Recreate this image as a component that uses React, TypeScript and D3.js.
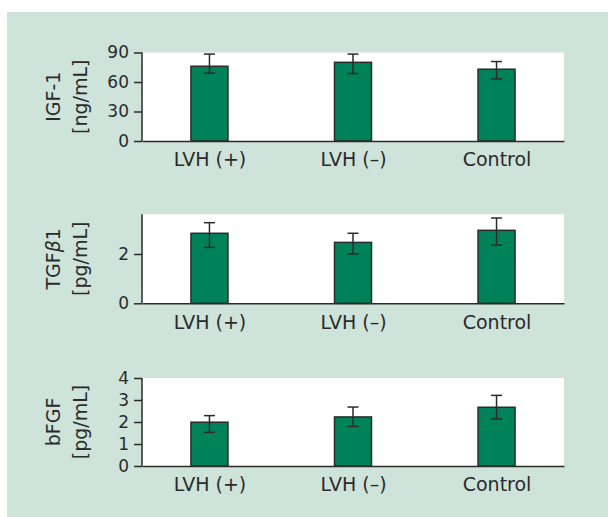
import React, { useEffect, useRef } from 'react';
import * as d3 from 'd3';

// Data
const categories = ['LVH (+)', 'LVH (–)', 'Control'];

const igfMean = [76, 80, 73];
const igfUpper = [88.4, 88.4, 80.8];
const igfLower = [69, 68.6, 63.2];
const igfTicks = [0, 30, 60, 90];

const tgfMean = [2.84, 2.47, 2.96];
const tgfUpper = [3.27, 2.84, 3.46];
const tgfLower = [2.27, 2.0, 2.36];
const tgfTicks = [0, 2];

const fgfMean = [1.99, 2.23, 2.67];
const fgfUpper = [2.29, 2.68, 3.21];
const fgfLower = [1.53, 1.8, 2.14];
const fgfTicks = [0, 1, 2, 3, 4];

const FONT = '"DejaVu Sans", sans-serif';
const INK = '#2b2b2b';

function App() {
    const svgRef = useRef<SVGSVGElement>(null);

    useEffect(() => {
        const svg = d3.select(svgRef.current);
        svg.selectAll('*').remove();

        const W = 608;
        const H = 517;

        svg.append('rect').attr('width', W).attr('height', H).attr('fill', '#ffffff');
        svg.append('rect')
            .attr('x', 7).attr('y', 12)
            .attr('width', W - 7).attr('height', H - 12)
            .attr('fill', '#cee3da');

        const left = 142;
        const right = 564;

        const x = d3.scalePoint()
            .domain(categories)
            .range([left, right])
            .padding(0.47);

        const panels = [
            { title: ['IGF-1', '[ng/mL]'], mean: igfMean, upper: igfUpper, lower: igfLower, ticks: igfTicks, max: 90, top: 52.5, bottom: 141 },
            { title: ['TGFβ1', '[pg/mL]'], mean: tgfMean, upper: tgfUpper, lower: tgfLower, ticks: tgfTicks, max: 3.61, top: 214.3, bottom: 303.3 },
            { title: ['bFGF', '[pg/mL]'], mean: fgfMean, upper: fgfUpper, lower: fgfLower, ticks: fgfTicks, max: 4, top: 378, bottom: 466 },
        ];

        panels.forEach((p) => {
            const y = d3.scaleLinear().domain([0, p.max]).range([p.bottom, p.top]);
            const g = svg.append('g');

            // plot area
            g.append('rect')
                .attr('x', left).attr('y', p.top)
                .attr('width', right - left).attr('height', p.bottom - p.top)
                .attr('fill', '#ffffff');

            // bars
            const barW = 37;
            g.selectAll('rect.bar')
                .data(categories)
                .join('rect')
                .attr('class', 'bar')
                .attr('x', (d) => (x(d) as number) - barW / 2)
                .attr('y', (d, i) => y(p.mean[i]))
                .attr('width', barW)
                .attr('height', (d, i) => y(0) - y(p.mean[i]))
                .attr('fill', '#008259')
                .attr('stroke', INK)
                .attr('stroke-width', 1.5);

            // error bars
            const capW = 11;
            const eb = g.selectAll('g.err').data(categories).join('g').attr('class', 'err')
                .attr('stroke', INK).attr('stroke-width', 1.5);
            eb.append('line')
                .attr('x1', (d) => x(d) as number).attr('x2', (d) => x(d) as number)
                .attr('y1', (d, i) => y(p.upper[i])).attr('y2', (d, i) => y(p.lower[i]));
            eb.append('line')
                .attr('x1', (d) => (x(d) as number) - capW / 2).attr('x2', (d) => (x(d) as number) + capW / 2)
                .attr('y1', (d, i) => y(p.upper[i])).attr('y2', (d, i) => y(p.upper[i]));
            eb.append('line')
                .attr('x1', (d) => (x(d) as number) - capW / 2).attr('x2', (d) => (x(d) as number) + capW / 2)
                .attr('y1', (d, i) => y(p.lower[i])).attr('y2', (d, i) => y(p.lower[i]));

            // y axis
            const yAxis = g.append('g')
                .attr('transform', `translate(${left},0)`)
                .call(d3.axisLeft(y).tickValues(p.ticks).tickFormat(d3.format('d')).tickSize(8).tickPadding(5).tickSizeOuter(0));
            yAxis.select('.domain').remove();
            yAxis.selectAll('line').attr('stroke', INK).attr('stroke-width', 1.5);
            yAxis.selectAll('text')
                .attr('font-family', FONT).attr('font-size', 17).attr('fill', INK);
            g.append('line')
                .attr('x1', left).attr('x2', left)
                .attr('y1', p.top).attr('y2', p.bottom)
                .attr('stroke', INK).attr('stroke-width', 1.5);

            // x axis
            const xAxis = g.append('g')
                .attr('transform', `translate(0,${p.bottom})`)
                .call(d3.axisBottom(x).tickSize(0).tickPadding(12).tickSizeOuter(0));
            xAxis.select('.domain').attr('stroke', INK).attr('stroke-width', 1.5);
            xAxis.selectAll('text')
                .attr('font-family', FONT).attr('font-size', 19).attr('fill', INK);

            // y title (two rotated lines)
            const cy = (p.top + p.bottom) / 2;
            const title = g.append('text')
                .attr('transform', `translate(60,${cy}) rotate(-90)`)
                .attr('text-anchor', 'middle')
                .attr('font-family', FONT).attr('font-size', 19).attr('fill', INK);
            p.title.forEach((line, k) => {
                const t = title.append('tspan').attr('x', 0).attr('y', k * 27);
                if (line.includes('β')) {
                    t.append('tspan').text('TGF');
                    t.append('tspan').attr('font-style', 'italic').text('β');
                    t.append('tspan').text('1');
                } else {
                    t.text(line);
                }
            });
        });
    }, []);

    return (
        <svg
            ref={svgRef}
            width={608}
            height={517}
            style={{ position: 'absolute', left: 0, top: 0, display: 'block' }}
        ></svg>
    );
}

export default App;
